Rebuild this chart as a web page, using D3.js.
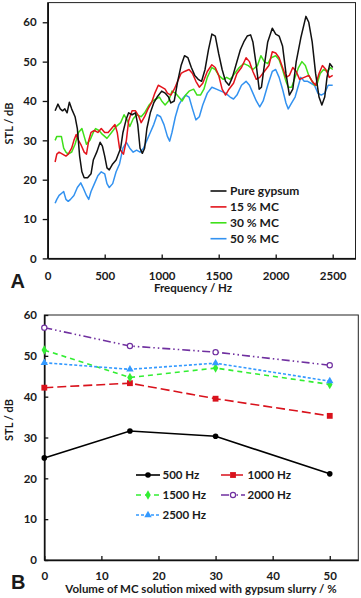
<!DOCTYPE html>
<html><head><meta charset="utf-8">
<script src="https://cdn.jsdelivr.net/npm/d3@7"></script>
<style>
body{margin:0;background:#fff}
svg{display:block}
text{font-family:Lato,"Open Sans",sans-serif;font-weight:bold;fill:#1a1a1a}
</style>
</head><body>
<svg id="c" width="361" height="598"></svg>
<script>
// ---------- Panel A data: STL (dB) vs frequency (Hz) ----------
const pureGypsum = [[65,37.5],[90,39.2],[110,38],[130,37.5],[150,38],[170,37],[190,39.7],[210,38],[240,36],[260,33],[280,26],[300,22],[320,20.5],[350,20.5],[380,21.5],[400,25],[430,27],[460,29.5],[480,28.5],[500,26],[520,23],[540,22.5],[570,24],[600,25],[640,28],[660,32],[690,35.5],[710,37],[740,36.5],[770,37],[790,34],[810,28],[830,26.7],[850,28],[870,33],[900,37],[930,39.5],[960,41],[1000,42.5],[1030,42],[1060,41],[1080,39.5],[1110,40],[1140,45],[1170,49],[1200,51.5],[1230,51],[1260,48.5],[1290,46.5],[1320,45.5],[1350,45],[1380,48],[1410,53],[1440,57],[1470,56.5],[1500,52],[1530,48],[1560,45],[1590,44],[1620,46],[1650,49],[1690,53],[1720,55],[1750,56.5],[1780,56.8],[1800,55],[1830,49],[1855,43],[1875,43.5],[1900,49],[1930,55],[1970,58.5],[2000,57],[2030,56.5],[2060,54],[2090,47],[2120,41.5],[2150,43],[2180,50],[2220,56],[2265,61.5],[2290,60],[2320,55],[2350,47],[2380,41],[2405,39],[2430,41],[2450,46],[2475,49.5],[2500,48.5]];
const mc15 = [[65,24.5],[80,26.5],[100,27],[130,26.5],[160,26],[180,26.5],[210,28],[230,30],[250,31.5],[270,30],[290,29],[320,27],[340,26.5],[360,30],[380,32],[410,32.5],[440,32],[470,33],[500,32],[530,32],[560,33],[590,34],[610,32],[630,28],[650,27],[665,26.5],[690,30],[710,35],[740,37.5],[770,37.5],[800,36],[820,34.5],[850,36],[880,38],[910,39.5],[940,42],[970,44],[1000,43.5],[1030,43],[1050,42],[1080,41.5],[1110,43],[1140,45],[1170,47],[1200,47.5],[1240,48],[1270,47],[1300,45],[1330,43.5],[1360,44.5],[1400,47.5],[1440,49.2],[1470,48.5],[1500,46.5],[1530,43],[1560,41.5],[1590,43],[1630,44.5],[1660,47],[1700,48.5],[1740,51],[1770,50],[1800,47.5],[1830,45.5],[1860,46],[1900,47.5],[1940,49],[1970,52.5],[2000,52.2],[2030,51],[2060,48.5],[2090,46],[2120,46.5],[2150,48.5],[2180,47.5],[2210,45.5],[2250,46],[2290,46.5],[2320,45],[2350,44],[2380,47],[2410,49],[2440,48],[2470,46],[2500,46.5]];
const mc30 = [[65,30],[80,31],[100,31],[120,31],[140,28],[160,27],[180,26.5],[210,27],[240,29],[270,32],[300,33],[320,31],[340,29],[370,30],[400,32],[420,33],[450,32.5],[480,31.5],[520,30.5],[560,32],[600,33.5],[640,34.5],[670,36.5],[700,35],[720,33.5],[750,35.5],[780,36.5],[820,36],[850,37],[890,39],[920,40],[950,40.5],[980,41],[1000,40],[1030,39],[1060,40],[1090,42.5],[1120,42],[1150,41],[1180,40],[1210,41.5],[1240,42.5],[1280,43],[1310,41.5],[1340,41.5],[1370,43],[1400,46],[1440,48.5],[1470,48],[1500,46.5],[1540,45.5],[1570,46],[1600,45.5],[1640,47],[1680,48.5],[1720,49.5],[1760,49],[1800,48],[1840,49],[1870,51.5],[1900,50],[1930,49.5],[1960,51],[2000,51.5],[2030,50.5],[2060,48],[2090,45],[2110,43.5],[2140,43.5],[2170,46],[2200,48.5],[2230,50],[2260,49],[2290,46.5],[2320,45],[2340,44],[2360,44],[2390,47],[2420,48],[2450,47.5],[2480,48.5],[2500,48]];
const mc50 = [[65,14],[80,15],[100,16],[120,16.5],[140,17],[160,15],[180,14.5],[200,15],[230,16],[260,18],[290,19.2],[310,18],[340,16],[360,15],[380,17],[410,19],[440,21],[470,22],[500,21.5],[520,19],[540,18],[570,19],[600,22],[630,24],[660,28],[690,29.5],[720,28],[750,27],[780,27.5],[810,27],[840,28],[870,30],[900,32],[930,34],[960,36.5],[990,36],[1020,34],[1050,31],[1070,29.8],[1090,32],[1120,36],[1150,39],[1180,40.5],[1210,41.5],[1240,41],[1270,38],[1300,35.2],[1330,36],[1360,39],[1400,42],[1440,43.5],[1480,43],[1520,42.5],[1560,42],[1600,41],[1630,40.5],[1660,41.5],[1700,44],[1740,45],[1770,44],[1800,42],[1830,40],[1860,38.5],[1890,40],[1930,44],[1970,47.5],[2000,48],[2030,46],[2060,43],[2090,39.5],[2110,38],[2140,39.5],[2170,41],[2200,44],[2220,46],[2250,45],[2280,45],[2310,44.5],[2340,44],[2370,42],[2400,41.5],[2430,42],[2460,44],[2480,44],[2500,44]];
const seriesNamesA = ["Pure gypsum","15 % MC","30 % MC","50 % MC"];
const ticksAx = [0,500,1000,1500,2000,2500];
const ticksAy = [0,10,20,30,40,50,60];

// ---------- Panel B data: STL (dB) vs MC volume (%) ----------
const mcVolume = [0,15,30,50];
const stl500 = [25.0,31.6,30.3,21.1];
const stl1000 = [42.2,43.3,39.5,35.3];
const stl1500 = [51.4,44.7,47.0,43.0];
const stl2000 = [56.9,52.4,50.9,47.7];
const stl2500 = [48.3,46.7,48.2,43.8];
const seriesNamesB = ["500 Hz","1000 Hz","1500 Hz","2000 Hz","2500 Hz"];
const ticksBx = [0,10,20,30,40,50];
const ticksBy = [0,10,20,30,40,50,60];

const svg = d3.select("#c");
const fmt = d3.format("d");

// ================= Panel A =================
const xA = d3.scaleLinear().domain([0,2700]).range([47.7,355.5]);
const yA = d3.scaleLinear().domain([0,65]).range([258.4,2.6]);
const gA = svg.append("g");
gA.append("rect").attr("x",xA(0)).attr("y",yA(65)).attr("width",xA(2700)-xA(0)).attr("height",yA(0)-yA(65))
  .attr("fill","none").attr("stroke","#222").attr("stroke-width",1);

const colorsA = ["#111111","#e3131b","#3fe01a","#3392f0"];
const dataA = [pureGypsum, mc15, mc30, mc50];
const lineA = d3.line().x(d=>xA(d[0])).y(d=>yA(d[1])).curve(d3.curveLinear);
[3,2,1,0].forEach(i=>{
  gA.append("path").datum(dataA[i]).attr("d",lineA).attr("fill","none")
    .attr("stroke",colorsA[i]).attr("stroke-width",1.5).attr("stroke-linejoin","round");
});

const axAy = gA.append("g").attr("transform",`translate(${xA(0)},0)`)
  .call(d3.axisLeft(yA).tickValues(ticksAy).tickFormat(fmt).tickSizeInner(5).tickSizeOuter(0).tickPadding(6));
const axAx = gA.append("g").attr("transform",`translate(0,${yA(0)})`)
  .call(d3.axisBottom(xA).tickValues(ticksAx).tickFormat(fmt).tickSizeInner(-4).tickSizeOuter(0).tickPadding(13.3));
[axAy,axAx].forEach(a=>{
  a.select(".domain").attr("stroke","#111").attr("stroke-width",1.6);
  a.selectAll(".tick line").attr("stroke","#111").attr("stroke-width",1.3);
  a.selectAll("text").attr("font-size",11.5).attr("fill","#1a1a1a").style("font-family","Lato").style("font-weight","bold");
});

// legend A
seriesNamesA.forEach((n,i)=>{
  const yy = 191 + i*15.9;
  gA.append("line").attr("x1",210.5).attr("x2",226.5).attr("y1",yy).attr("y2",yy)
    .attr("stroke",colorsA[i]).attr("stroke-width",1.6);
  gA.append("text").attr("x",230).attr("y",yy).attr("dy","0.35em").attr("font-size",12).text(n);
});
gA.append("text").attr("x",193).attr("y",291.5).attr("text-anchor","middle").attr("font-size",11.5).text("Frequency / Hz");
gA.append("text").attr("transform","translate(12.5,123.5) rotate(-90)").attr("text-anchor","middle").attr("font-size",11).text("STL / dB");
gA.append("text").attr("x",10.5).attr("y",288).attr("font-size",20).style("font-family","Liberation Sans").text("A");

// ================= Panel B =================
const xB = d3.scaleLinear().domain([0,55]).range([44.3,358.3]);
const yB = d3.scaleLinear().domain([0,60]).range([560,315]);
const gB = svg.append("g");
gB.append("rect").attr("x",xB(0)).attr("y",yB(60)).attr("width",xB(55)-xB(0)).attr("height",yB(0)-yB(60))
  .attr("fill","none").attr("stroke","#222").attr("stroke-width",1);

const axBy = gB.append("g").attr("transform",`translate(${xB(0)},0)`)
  .call(d3.axisLeft(yB).tickValues(ticksBy).tickFormat(fmt).tickSizeInner(-4).tickSizeOuter(0).tickPadding(7.3));
const axBx = gB.append("g").attr("transform",`translate(0,${yB(0)})`)
  .call(d3.axisBottom(xB).tickValues(ticksBx).tickFormat(fmt).tickSizeInner(-4).tickSizeOuter(0).tickPadding(12.2));
[axBy,axBx].forEach(a=>{
  a.select(".domain").attr("stroke","#111").attr("stroke-width",1.6);
  a.selectAll(".tick line").attr("stroke","#111").attr("stroke-width",1.3);
  a.selectAll("text").attr("font-size",11.5).attr("fill","#1a1a1a").style("font-family","Lato").style("font-weight","bold");
});

const seriesB = [
  {name:seriesNamesB[0], vals:stl500,  color:"#000000", dash:null,            marker:"circle"},
  {name:seriesNamesB[1], vals:stl1000, color:"#d9121c", dash:"9,4",           marker:"square"},
  {name:seriesNamesB[2], vals:stl1500, color:"#33ee33", dash:"5,4",           marker:"diamond"},
  {name:seriesNamesB[3], vals:stl2000, color:"#7030a0", dash:"8,3,1.5,3,1.5,3", marker:"ocircle"},
  {name:seriesNamesB[4], vals:stl2500, color:"#3399ff", dash:"3,2",           marker:"triangle"}
];
const lineB = d3.line().x(d=>xB(d[0])).y(d=>yB(d[1]));
function drawMarker(g, type, cx, cy, color){
  if(type==="circle") g.append("circle").attr("cx",cx).attr("cy",cy).attr("r",2.8).attr("fill",color);
  else if(type==="ocircle") g.append("circle").attr("cx",cx).attr("cy",cy).attr("r",2.6).attr("fill","#fff").attr("stroke",color).attr("stroke-width",1.2);
  else if(type==="square") g.append("path").attr("d",d3.symbol(d3.symbolSquare,34)()).attr("transform",`translate(${cx},${cy})`).attr("fill",color);
  else if(type==="diamond") g.append("path").attr("d",d3.symbol(d3.symbolDiamond,26)()).attr("transform",`translate(${cx},${cy})`).attr("fill",color);
  else if(type==="triangle") g.append("path").attr("d",d3.symbol(d3.symbolTriangle,24)()).attr("transform",`translate(${cx},${cy})`).attr("fill",color);
}
seriesB.forEach(s=>{
  const pts = mcVolume.map((v,i)=>[v,s.vals[i]]);
  gB.append("path").datum(pts).attr("d",lineB).attr("fill","none").attr("stroke",s.color)
    .attr("stroke-width",1.6).attr("stroke-dasharray",s.dash);
  pts.forEach(p=>drawMarker(gB,s.marker,xB(p[0]),yB(p[1]),s.color));
});

// legend B
const legPos = [[136,475],[221,475],[136,495],[221,495],[136,515]];
seriesB.forEach((s,i)=>{
  const [lx,ly] = legPos[i];
  gB.append("line").attr("x1",lx).attr("x2",lx+24).attr("y1",ly).attr("y2",ly).attr("stroke",s.color)
    .attr("stroke-width",1.6).attr("stroke-dasharray",s.dash);
  drawMarker(gB,s.marker,lx+12,ly,s.color);
  gB.append("text").attr("x",lx+26.5).attr("y",ly).attr("dy","0.35em").attr("font-size",11.5).text(s.name);
});
gB.append("text").attr("x",201).attr("y",592.5).attr("text-anchor","middle").attr("font-size",11.5).text("Volume of MC solution mixed with gypsum slurry / %");
gB.append("text").attr("transform","translate(12.5,420) rotate(-90)").attr("text-anchor","middle").attr("font-size",11).text("STL / dB");
gB.append("text").attr("x",11).attr("y",588.5).attr("font-size",20).style("font-family","Liberation Sans").text("B");
</script>
</body></html>
